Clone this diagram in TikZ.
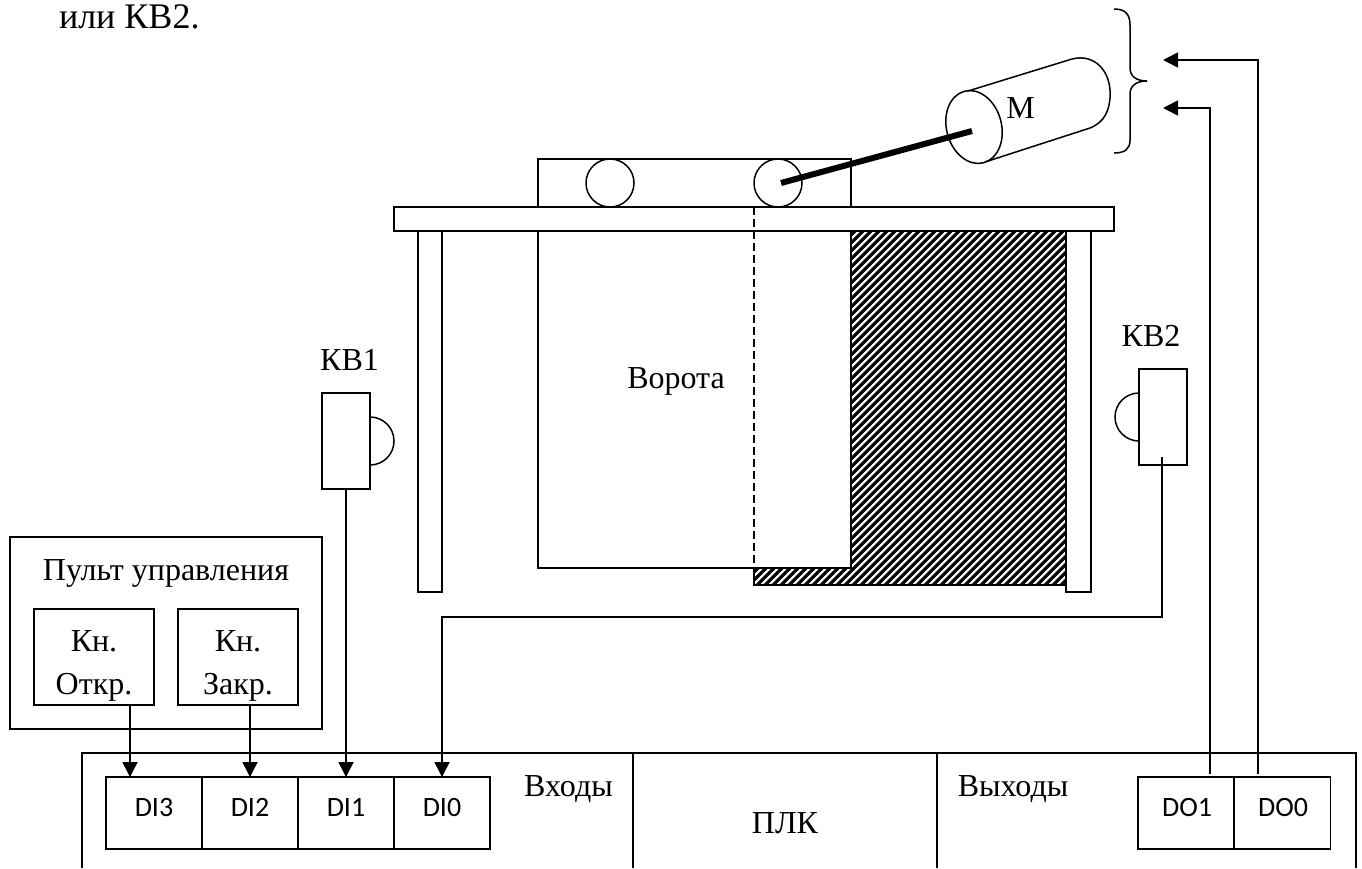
\documentclass[tikz,border=0pt]{standalone}
\usepackage{fontspec}
\setmainfont{Liberation Serif}
\newfontfamily\calibrifont{Carlito}
\usetikzlibrary{arrows.meta}
\tikzset{
  lw/.style={line width=1.5pt},
  box/.style={draw,lw,fill=white,inner sep=0pt,outer sep=0pt},
  lab/.style={inner sep=0pt,outer sep=0pt,anchor=base,font=\fontsize{32}{38}\selectfont},
  cell/.style={inner sep=0pt,outer sep=0pt,font=\calibrifont\fontsize{28}{32}\selectfont},
  wire/.style={lw,draw},
  arrowwire/.style={lw,draw,-{Triangle[length=15pt,width=15pt]}}
}
\begin{document}
\begin{tikzpicture}[x=1pt,y=-1pt]
\useasboundingbox (0,0) rectangle (1362,868);
\fill[white] (0,0) rectangle (1362,868);
% hatched open-position door
\begin{scope}
\clip (851,231) -- (1067,231) -- (1067,585) -- (754,585) -- (754,568) -- (851,568) -- cycle;
\foreach \i in {400,408,...,1072} \draw[line width=3.2pt] (\i,590) -- (\i+364,226);
\end{scope}
\draw[lw] (851,231) -- (1067,231) -- (1067,585) -- (754,585) -- (754,568) -- (851,568) -- cycle;
% door, carriage
\node[box,minimum width=313pt,minimum height=337pt] (door) at (694.5,399.5) {};
\node[box,minimum width=313pt,minimum height=48pt] (carriage) at (694.5,183) {};
\draw[lw] (610,183) circle[radius=24];
\draw[lw] (778,183) circle[radius=24];
% posts and rail
\node[box,minimum width=24pt,minimum height=361pt] (postL) at (430,411.5) {};
\node[box,minimum width=25pt,minimum height=361pt] (postR) at (1078.5,411.5) {};
\node[box,minimum width=720pt,minimum height=24pt] (rail) at (754,219) {};
\draw[lw,dash pattern=on 8pt off 4pt] (754,207) -- (754,568);
\node[lab] (vorota) at (676,388) {Ворота};
% motor
\draw[lw] (968,91) -- (1072,59) .. controls (1096,53) and (1112,73) .. (1110,98) .. controls (1109,110) and (1105,122) .. (1090,128) -- (985,162);
\draw[lw,rotate around={15:(974,127)}] (974,127) ellipse[x radius=27.5,y radius=37];
\draw[line width=6pt] (781,183) -- (972,131);
\node[lab] (motor) at (1020.5,118) {М};
% brace
\draw[lw] (1114,9) .. controls (1125,9) and (1130,14) .. (1130,25) -- (1130,68) .. controls (1130,76) and (1136,81) .. (1147,81) .. controls (1136,81) and (1130,86) .. (1130,94) -- (1130,140) .. controls (1130,149) and (1125,153) .. (1114,153);
% limit switches
\node[box,minimum width=48pt,minimum height=96pt] (kv1) at (346,441) {};
\draw[lw] (370,417) arc[start angle=-90,end angle=90,radius=24];
\node[lab] (kv1t) at (349.5,370) {КВ1};
\node[box,minimum width=48pt,minimum height=96pt] (kv2) at (1163,417) {};
\draw[lw] (1139,393) arc[start angle=-90,end angle=-270,radius=24];
\node[lab] (kv2t) at (1151,346) {КВ2};
% control panel
\node[box,minimum width=312pt,minimum height=192pt] (panel) at (166,633) {};
\node[lab] (panelt) at (166,580) {Пульт управления};
\node[box,minimum width=120pt,minimum height=96pt] (kno) at (94,657) {};
\node[box,minimum width=120pt,minimum height=96pt] (knz) at (238,657) {};
\node[lab] (kno1) at (94,651) {Кн.};
\node[lab] (kno2) at (94,694) {Откр.};
\node[lab] (knz1) at (238,651) {Кн.};
\node[lab] (knz2) at (238,694) {Закр.};
% PLC
\draw[lw] (82,868) -- (82,753) -- (1356,753) -- (1356,868);
\draw[lw] (633,753) -- (633,868);
\draw[lw] (937,753) -- (937,868);
\node[lab] (vhody) at (568.5,796) {Входы};
\node[lab] (vyhody) at (1013,796) {Выходы};
\node[lab] (plk) at (785,833) {ПЛК};
% cells
\foreach \n/\cx in {di3/154,di2/250,di1/346,di0/442,do1/1186,do0/1282.5}
  \node[box,minimum width=96pt,minimum height=72pt] (\n) at (\cx,813) {};
\node[cell] (di3t) at (154,807) {DI3};
\node[cell] (di2t) at (250,807) {DI2};
\node[cell] (di1t) at (346,807) {DI1};
\node[cell] (di0t) at (442,807) {DI0};
\node[cell] (do1t) at (1187,807) {DO1};
\node[cell] (do0t) at (1283,807) {DO0};
% connectors
\coordinate (knoOut) at (130,705);
\coordinate (di3In) at (130,777);
\coordinate (knzOut) at (250,705);
\coordinate (kv2Out) at (1162,457);
\coordinate (kv2Bend) at (1162,617);
\coordinate (di0Bend) at (442,617);
\coordinate (do1Out) at (1210,774);
\coordinate (do0Out) at (1258,774);
\coordinate (m1) at (1163,108);
\coordinate (m0) at (1163,60);
\draw[arrowwire] (knoOut) -- (di3In);
\draw[arrowwire] (knzOut) -- (di2.north);
\draw[arrowwire] (kv1.south) -- (di1.north);
\draw[arrowwire] (kv2Out) -- (kv2Bend) -- (di0Bend) -- (di0.north);
\draw[arrowwire] (do1Out) -- (1210,108) -- (m1);
\draw[arrowwire] (do0Out) -- (1258,60) -- (m0);
% text line at the top edge
\node[lab,anchor=base west,font=\fontsize{36}{42}\selectfont] (toptext) at (59,28) {или КВ2.};
\end{tikzpicture}
\end{document}
